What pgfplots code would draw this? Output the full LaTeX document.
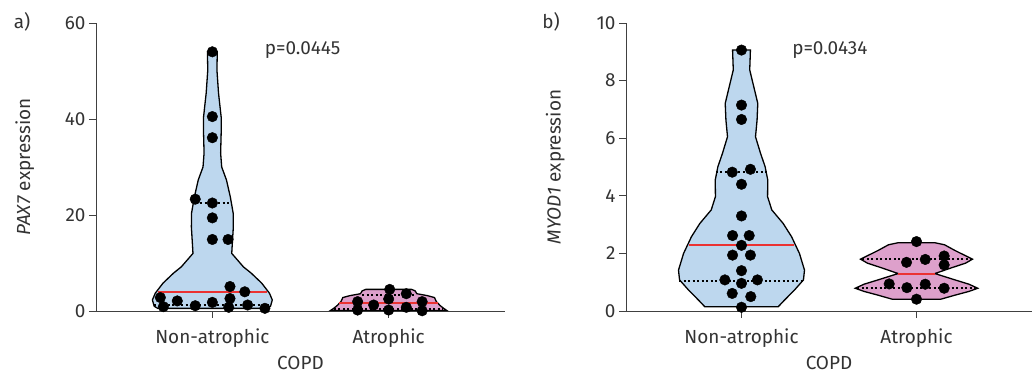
\documentclass[border=0pt]{standalone}
\usepackage{pgfplots}
\pgfplotsset{compat=1.18}
\usepackage{fontspec}
\setmainfont{Fira Sans}
\definecolor{vblue}{RGB}{189,215,238}
\definecolor{vpink}{RGB}{221,160,203}
\definecolor{vred}{RGB}{235,50,50}
\definecolor{txt}{RGB}{51,51,51}
\pgfplotsset{
 vstyle/.style={scale only axis, height=288bp, ymin=0,
  axis x line=bottom, axis y line=left,
  axis line style={-, black!75, line width=0.9bp},
  tick style={black!75, line width=0.9bp},
  tick align=outside, major tick length=7bp,
  xmin=-0.66, xmax=1.66, xtick={0,1}, xticklabels={Non-atrophic,Atrophic},
  clip=false, font=\fontsize{19}{21}\selectfont,
  /pgf/number format/assume math mode=true,
  every tick label/.append style={text=txt},
  xticklabel style={anchor=base, yshift=-25bp},
  label style={text=txt},
  xlabel=COPD,
  xlabel style={at={(axis description cs:0.5,0)}, anchor=base, yshift=-58bp},
  ylabel style={at={(axis description cs:-0.174,0.5)}, anchor=center},
 },
 outline/.style={draw=black, line width=1.3bp},
 dots/.style={only marks, mark=*, mark size=5.3bp, black},
 quart/.style={draw=black, line width=2bp, dash pattern=on 2bp off 2.5bp},
 med/.style={draw=vred, line width=1.8bp},
}
\begin{document}
\begin{tikzpicture}
\useasboundingbox (0,0) rectangle (1036bp,374bp);
\node[text=txt, font=\fontsize{19}{21}\selectfont] at (22bp,352bp) {a)};
\node[text=txt, font=\fontsize{19}{21}\selectfont] at (551bp,352bp) {b)};
\begin{axis}[vstyle, at={(96bp,63bp)}, anchor=south west, width=409bp,
  ymax=60, ytick={0,20,40,60}, ylabel={\textit{PAX7} expression}]
\addplot[outline, fill=vblue] coordinates {
(-0.028,54.0) (0.028,54.0) (0.026,50.2) (0.035,45.4) (0.05,40.4) (0.05,37.1)
(0.047,32.9) (0.053,30.0) (0.08,27.3) (0.102,23.75) (0.118,20.4) (0.119,17.5)
(0.112,13.3) (0.11,12.0) (0.176,9.2) (0.22,7.9) (0.28,5.8) (0.324,3.7)
(0.34,2.3) (0.33,1.0) (0.31,0.55)
(-0.31,0.55) (-0.33,1.0) (-0.34,2.3) (-0.324,3.7) (-0.28,5.8) (-0.22,7.9)
(-0.176,9.2) (-0.11,12.0) (-0.112,13.3) (-0.119,17.5) (-0.118,20.4) (-0.102,23.75)
(-0.08,27.3) (-0.053,30.0) (-0.047,32.9) (-0.05,37.1) (-0.05,40.4) (-0.035,45.4)
(-0.026,50.2)} -- cycle;
\addplot[quart] coordinates {(-0.095,22.5) (0.095,22.5)};
\addplot[quart] coordinates {(-0.33,1.2) (0.33,1.2)};
\addplot[med] coordinates {(-0.31,4.0) (0.31,4.0)};
\addplot[outline, fill=vpink] coordinates {
(0.87,4.5) (1.13,4.5) (1.15,4.2) (1.16,3.6) (1.22,3.2) (1.26,2.8) (1.27,2.0)
(1.29,1.2) (1.31,0.6) (1.33,0.1)
(0.67,0.1) (0.69,0.6) (0.71,1.2) (0.73,2.0) (0.74,2.8) (0.78,3.2) (0.84,3.6)
(0.85,4.2)} -- cycle;
\addplot[quart] coordinates {(0.85,3.4) (1.15,3.4)};
\addplot[quart] coordinates {(0.69,0.5) (1.31,0.5)};
\addplot[med] coordinates {(0.72,1.6) (1.28,1.6)};
\addplot[dots] coordinates {
(0,54.0) (0,40.5) (0,36.1) (-0.097,23.3) (0,22.5) (0,19.4) (0,14.9) (0.089,14.9)
(0.1,5.1) (0.184,4.0) (-0.295,2.8) (-0.199,2.1) (0,1.8) (0.1,2.6) (-0.278,0.9)
(-0.097,1.1) (0.093,0.77) (0.2,1.25) (0.298,0.56)};
\addplot[dots] coordinates {
(1.006,4.5) (1.1,3.6) (1.0,2.5) (0.824,1.95) (0.915,1.25) (1.19,1.95)
(1.1,0.77) (0.824,0.2) (1.0,0.2) (1.19,0.05)};
\node[anchor=west, text=txt] at (axis cs:0.278,54.4) {p=0.0445};
\end{axis}
\begin{axis}[vstyle, at={(626bp,63bp)}, anchor=south west, width=406bp,
  ymax=10, ytick={0,2,4,6,8,10}, ylabel={\textit{MYOD1} expression}]
\addplot[outline, fill=vblue] coordinates {
(-0.051,9.06) (0.051,9.06) (0.047,8.37) (0.070,7.79) (0.093,7.21) (0.089,6.63)
(0.080,6.05) (0.109,5.47) (0.135,5.01) (0.150,4.55) (0.149,3.97) (0.173,3.51)
(0.238,3.04) (0.286,2.58) (0.331,2.00) (0.360,1.42) (0.354,1.08) (0.303,0.73)
(0.246,0.38) (0.21,0.15)
(-0.21,0.15) (-0.246,0.38) (-0.303,0.73) (-0.354,1.08) (-0.360,1.42) (-0.331,2.00)
(-0.286,2.58) (-0.238,3.04) (-0.173,3.51) (-0.149,3.97) (-0.150,4.55) (-0.135,5.01)
(-0.109,5.47) (-0.080,6.05) (-0.089,6.63) (-0.093,7.21) (-0.070,7.79) (-0.047,8.37)} -- cycle;
\addplot[quart] coordinates {(-0.146,4.82) (0.146,4.82)};
\addplot[quart] coordinates {(-0.356,1.05) (0.356,1.05)};
\addplot[med] coordinates {(-0.30,2.28) (0.30,2.28)};
\addplot[outline, fill=vpink] coordinates {
(0.895,2.37) (1.105,2.37) (1.16,2.30) (1.22,2.10) (1.28,1.92) (1.32,1.80)
(1.28,1.66) (1.20,1.50) (1.105,1.30) (1.22,1.08) (1.30,0.93) (1.35,0.79)
(1.30,0.68) (1.22,0.55) (1.139,0.41)
(0.861,0.41) (0.78,0.55) (0.70,0.68) (0.65,0.79) (0.70,0.93) (0.78,1.08)
(0.895,1.30) (0.80,1.50) (0.72,1.66) (0.68,1.80) (0.72,1.92) (0.78,2.10)
(0.84,2.30)} -- cycle;
\addplot[quart] coordinates {(0.69,1.80) (1.31,1.80)};
\addplot[quart] coordinates {(0.66,0.79) (1.34,0.79)};
\addplot[med] coordinates {(0.895,1.29) (1.105,1.29)};
\addplot[dots] coordinates {
(0,9.06) (0,7.15) (0,6.65) (-0.053,4.82) (0.051,4.92) (0,4.4) (0,3.3)
(-0.051,2.62) (0.044,2.62) (0,2.28) (-0.051,1.94) (0.051,1.94) (0,1.40)
(-0.095,1.08) (0.091,1.08) (0,0.96) (-0.053,0.61) (0.053,0.50) (0,0.13)};
\addplot[dots] coordinates {
(1,2.41) (0.943,1.69) (1.05,1.79) (1.158,1.91) (1.158,1.6) (0.844,0.94)
(0.945,0.81) (1.05,0.93) (1.158,0.79) (1,0.41)};
\node[anchor=west, text=txt] at (axis cs:0.27,9.06) {p=0.0434};
\end{axis}
\end{tikzpicture}
\end{document}
